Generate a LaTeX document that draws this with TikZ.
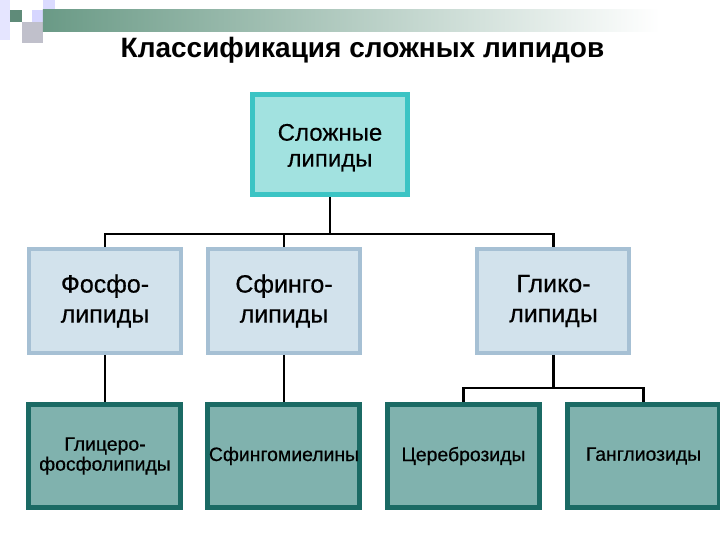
\documentclass[tikz,border=0pt]{standalone}
\usepackage{fontspec}
\setmainfont{Liberation Sans}
\usetikzlibrary{positioning}

\definecolor{topfill}{HTML}{A2E2E0}
\definecolor{topline}{HTML}{3CC4C4}
\definecolor{midfill}{HTML}{D2E2EC}
\definecolor{midline}{HTML}{A6C0D4}
\definecolor{botfill}{HTML}{80B2AE}
\definecolor{botline}{HTML}{1B6A64}
\definecolor{barleft}{HTML}{6A9A86}

\begin{document}
\begin{tikzpicture}[
  x=0.5pt, y=-0.5pt,
  every node/.style={align=center, inner sep=0pt},
  rootbox/.style={draw=topline, fill=topfill, line width=2.5pt, minimum width=77.5pt, minimum height=50pt,
    font=\fontsize{12}{13}\selectfont\addfontfeature{FakeBold=0.3}},
  classbox/.style={draw=midline, fill=midfill, line width=2pt, minimum width=76pt, minimum height=52pt,
    font=\fontsize{12.5}{15}\selectfont\addfontfeature{FakeBold=0.5}},
  leafbox/.style={draw=botline, fill=botfill, line width=2.5pt, minimum width=76pt, minimum height=51.5pt,
    font=\fontsize{9.7}{10}\selectfont\addfontfeature{FakeBold=0.5}},
  conn/.style={line width=1.2pt, black},
]
\useasboundingbox (0,0) rectangle (720,540);

% slide decoration
\fill[blue!10] (0,0) rectangle (10,40);
\fill[blue!14] (43,0) rectangle (55,10);
\fill[blue!16] (32,10) rectangle (55,22);
\fill[barleft!90!black] (10,10) rectangle (22,22);
\fill[blue!10!gray!45] (22,22) rectangle (43,43);
\shade[left color=barleft, right color=white] (43,10) rectangle (660,32);

\node[anchor=base, font=\bfseries\fontsize{14}{16}\selectfont] (title) at (362.5,58) {Классификация сложных липидов};

\node[rootbox] (complex) at (330,144.5)
  {\raisebox{-2pt}[\height][\depth]{\begin{tabular}{@{}c@{}}Сложные\\липиды\end{tabular}}};

\node[classbox] (phospho) at (105,301) {Фосфо-\\липиды};
\node[classbox, right=11.5pt of phospho] (sphingo) {Сфинго-\\липиды};
\node[classbox] (glyco) at (553.5,301) {Глико-\\липиды};

\node[leafbox, below=23.5pt of phospho] (glycero) {Глицеро-\\фосфолипиды};
\node[leafbox, below=23.5pt of sphingo] (myelin) {Сфингомиелины};
\node[leafbox] (cerebro) at (463.5,456) {Цереброзиды};
\node[leafbox, right=11.5pt of cerebro] (gangl) {Ганглиозиды};

\coordinate (bus) at (330,234);
\coordinate (gbus) at (553.5,388);

\draw[conn] (complex.south) -- (bus);
\draw[conn] (bus) -| (phospho.north);
\draw[conn] (bus) -| (sphingo.north);
\draw[conn] (bus) -| (glyco.north);
\draw[conn] (phospho) -- (glycero);
\draw[conn] (sphingo) -- (myelin);
\draw[conn] (glyco.south) -- (gbus);
\draw[conn] (gbus) -| (cerebro.north);
\draw[conn] (gbus) -| (gangl.north);
\end{tikzpicture}
\end{document}
